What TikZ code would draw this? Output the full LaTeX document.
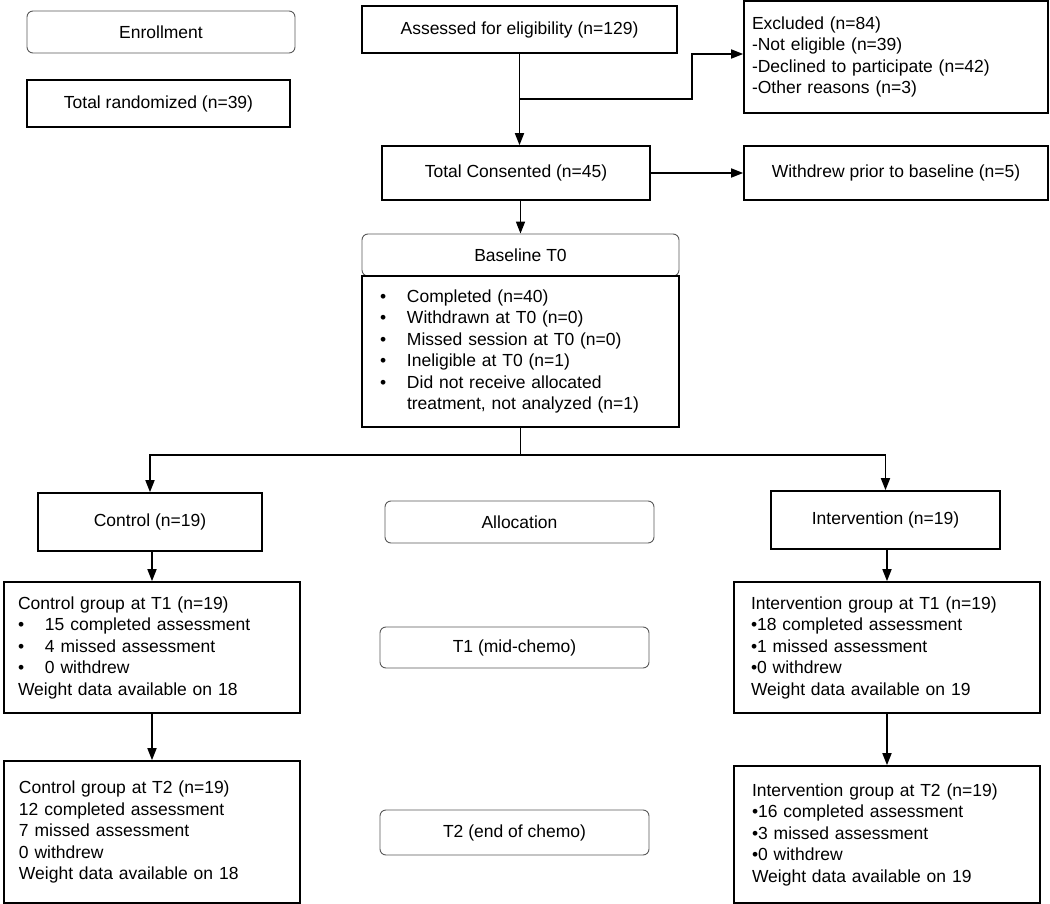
\documentclass[tikz,border=0pt]{standalone}
\usepackage{fontspec}
\setmainfont{Liberation Sans}
\usetikzlibrary{arrows.meta}
\newcommand{\bu}{\makebox[27pt][l]{\textbullet}}
\newcommand{\nb}{\textbullet}
\newcommand{\fs}{\fontsize{17.5}{21.5}\selectfont}
\tikzset{
  box/.style={draw, line width=1.6pt, inner sep=0pt, font=\fs},
  stage/.style={draw=black!65, line width=0.9pt, rounded corners=6pt, inner sep=0pt, font=\fs},
  list/.style={box, align=left, inner ysep=0pt}
}

\begin{document}
\begin{tikzpicture}[x=1pt,y=-1pt,>={Triangle[length=12pt,width=9pt]},line width=1.6pt]
   \useasboundingbox (0,0) rectangle (1050,904);
   \node[stage, minimum width=268pt, minimum height=42pt] (enrol)   at (161.0, 32.0) {Enrollment};
   \node[box,   minimum width=263pt, minimum height=47pt] (random)  at (158.5,103.5) {Total randomized (n=39)};
   \node[box,   minimum width=315pt, minimum height=47pt] (assess)  at (519.5, 29.5) {Assessed for eligibility (n=129)};
   \node[list,  text width=288pt, inner xsep=8pt, minimum height=112pt] (excl) at (896.0, 57.0)
    {Excluded (n=84)\\-Not eligible (n=39)\\-Declined to participate (n=42)\\-Other reasons (n=3)};
   \node[box,   minimum width=268pt, minimum height=54pt] (consent)  at (516.0,173.0) {Total Consented (n=45)};
   \node[box,   minimum width=304pt, minimum height=54pt] (withdrew) at (896.0,173.0) {Withdrew prior to baseline (n=5)};
   \node[stage, minimum width=317pt, minimum height=42pt] (base)     at (520.5,255.0) {Baseline T0};
   \node[list,  text width=281pt, inner xsep=18pt, minimum height=151pt] (baselist) at (520.5,351.5)
    {\bu Completed (n=40)\\\bu Withdrawn at T0 (n=0)\\\bu Missed session at T0 (n=0)\\\bu Ineligible at T0 (n=1)\\
     \bu Did not receive allocated\\\hspace*{27pt}treatment, not analyzed (n=1)};
   \node[box,   minimum width=224pt, minimum height=58pt] (ctrl)   at (150.0,522.0) {Control (n=19)};
   \node[stage, minimum width=269pt, minimum height=42pt] (alloc)  at (519.5,522.0) {Allocation};
   \node[box,   minimum width=229pt, minimum height=58pt] (interv) at (885.5,520.0) {Intervention (n=19)};
   \node[list,  text width=268pt, inner xsep=14pt, minimum height=131pt] (ctrlA) at (152.0,647.5)
    {Control group at T1 (n=19)\\\bu 15 completed assessment\\\bu 4 missed assessment\\\bu 0 withdrew\\Weight data available on 18};
   \node[stage, minimum width=269pt, minimum height=41pt] (tone)   at (514.5,647.5) {T1 (mid-chemo)};
   \node[list,  text width=272pt, inner xsep=17pt, minimum height=131pt] (intA)  at (887.0,647.5)
    {Intervention group at T1 (n=19)\\\nb 18 completed assessment\\\nb 1 missed assessment\\\nb 0 withdrew\\Weight data available on 19};
   \node[list,  text width=266pt, inner xsep=15pt, minimum height=142pt] (ctrlB) at (152.0,832.0)
    {Control group at T2 (n=19)\\12 completed assessment\\7 missed assessment\\0 withdrew\\Weight data available on 18};
   \node[stage, minimum width=269pt, minimum height=45pt] (ttwo)   at (514.5,832.5) {T2 (end of chemo)};
   \node[list,  text width=270pt, inner xsep=18pt, minimum height=137pt] (intB)  at (887.0,834.5)
    {Intervention group at T2 (n=19)\\\nb 16 completed assessment\\\nb 3 missed assessment\\\nb 0 withdrew\\Weight data available on 19};
   \coordinate (bend) at (692,99);
   \coordinate (fork) at (520.5,455);
   \draw[->] (assess.south) -- (assess.south |- consent.north);
   \draw[->] (assess.south |- bend) -- (bend) |- ([yshift=3pt]excl.west);
   \draw[->] (consent.east) -- (withdrew.west);
   \draw[->] (base.north |- consent.south) -- (base.north);
   \draw     (baselist.south) -- (fork);
   \draw[->] (fork) -| (ctrl.north);
   \draw[->] (fork) -| (interv.north);
   \draw[->] (ctrlA.north |- ctrl.south) -- (ctrlA.north);
   \draw[->] (intA.north |- interv.south) -- (intA.north);
   \draw[->] (ctrlA.south) -- (ctrlB.north);
   \draw[->] (intA.south) -- (intB.north);
\end{tikzpicture}
\end{document}
